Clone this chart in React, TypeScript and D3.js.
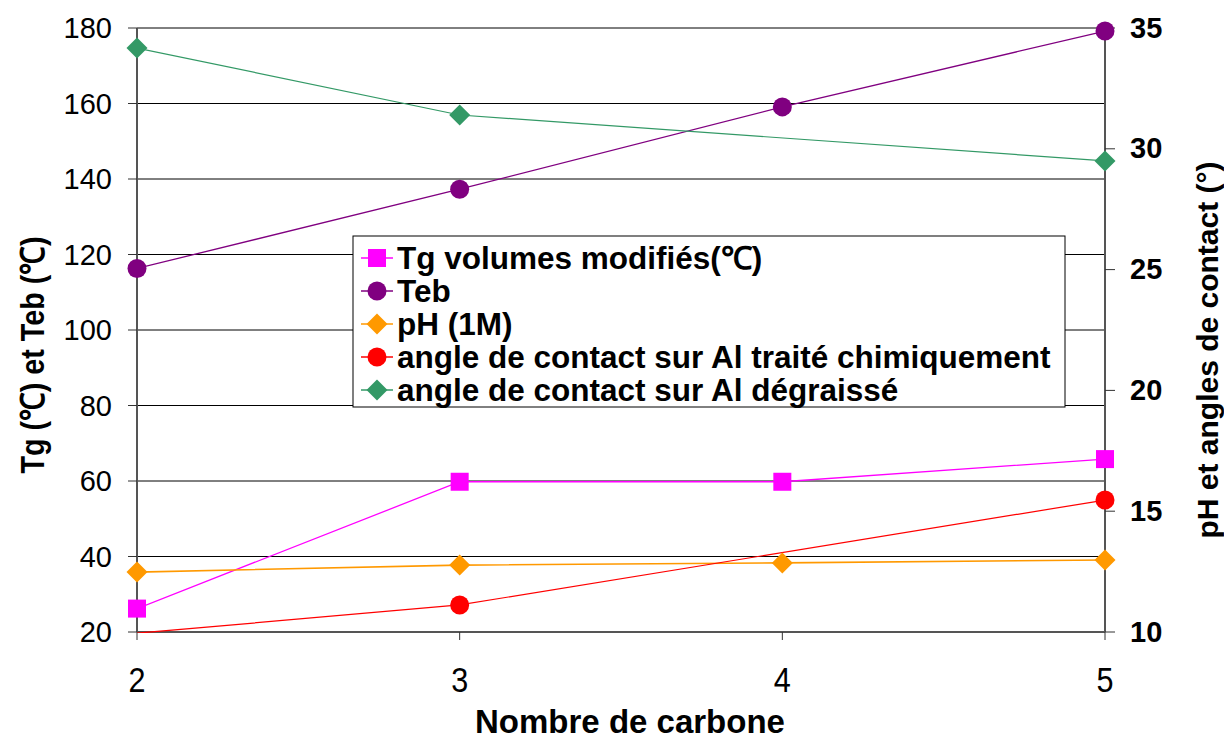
import React from "react";
import * as d3 from "d3";

const categories = [2, 3, 4, 5];
const leftTicks = [20, 40, 60, 80, 100, 120, 140, 160, 180];
const rightTicks = [10, 15, 20, 25, 30, 35];
const tgValues: (number | null)[] = [26.2, 59.8, 59.8, 65.8];
const tebValues: (number | null)[] = [116.3, 137.3, 159.1, 179.2];
const phValues: (number | null)[] = [12.48, 12.77, 12.86, 12.98];
const angleTraiteValues: (number | null)[] = [9.95, 11.12, null, 15.46];
const angleDegraisseValues: (number | null)[] = [34.17, 31.4, null, 29.5];

const seriesNames = [
  "Tg volumes modifiés(℃)",
  "Teb",
  "pH (1M)",
  "angle de contact sur Al traité chimiquement",
  "angle de contact sur Al dégraissé",
];

type Series = { name: string; values: (number | null)[]; color: string; shape: string; axis: "left" | "right"; width: number };

const series: Series[] = [
  { name: seriesNames[0], values: tgValues, color: "#FF00FF", shape: "square", axis: "left", width: 1.3 },
  { name: seriesNames[1], values: tebValues, color: "#800080", shape: "circle", axis: "left", width: 1.3 },
  { name: seriesNames[2], values: phValues, color: "#FF9900", shape: "diamond", axis: "right", width: 1.6 },
  { name: seriesNames[3], values: angleTraiteValues, color: "#FF0000", shape: "circle", axis: "right", width: 1.2 },
  { name: seriesNames[4], values: angleDegraisseValues, color: "#339966", shape: "diamond", axis: "right", width: 1.2 },
];

const W = 1224, H = 739;
const L = 137, R = 1105, T = 28, B = 632;
const FONT = "'Liberation Sans', Arial, sans-serif";

function Marker({ shape, x, y, color }: { shape: string; x: number; y: number; color: string }) {
  if (shape === "square") return <rect x={x - 9} y={y - 9} width={18} height={18} fill={color} />;
  if (shape === "circle") return <circle cx={x} cy={y} r={9.5} fill={color} />;
  const s = 10.5;
  return <path d={`M${x},${y - s}L${x + s},${y}L${x},${y + s}L${x - s},${y}Z`} fill={color} />;
}

export default function App() {
  const x = d3.scalePoint<number>().domain(categories).range([L, R]);
  const yL = d3.scaleLinear().domain([20, 180]).range([B, T]);
  const yR = d3.scaleLinear().domain([10, 35]).range([B, T]);

  const legX = 353, legY = 236, legW = 712, legH = 171;
  const rowH = 33;

  return (
    <svg width={W} height={H} style={{ position: "absolute", left: 0, top: 0, background: "#fff" }} fontFamily={FONT}>
      <defs>
        <clipPath id="plot">
          <rect x={L} y={T - 12} width={R - L + 12} height={B - T + 13} />
        </clipPath>
      </defs>
      {/* gridlines */}
      {leftTicks.map((t) => (
        <line key={"g" + t} x1={L} x2={R} y1={yL(t)} y2={yL(t)} stroke="#000" strokeWidth={1} />
      ))}
      {/* axes */}
      <line x1={L} x2={L} y1={T} y2={B} stroke="#555" strokeWidth={2} />
      <line x1={R} x2={R} y1={T} y2={B} stroke="#555" strokeWidth={2} />
      <line x1={L} x2={R} y1={B} y2={B} stroke="#555" strokeWidth={2} />
      {leftTicks.map((t) => (
        <g key={"lt" + t}>
          <line x1={L - 9} x2={L} y1={yL(t)} y2={yL(t)} stroke="#333" strokeWidth={1} />
          <text x={112} y={yL(t)} dy="0.35em" textAnchor="end" fontSize={29}>{t}</text>
        </g>
      ))}
      {rightTicks.map((t) => (
        <g key={"rt" + t}>
          <line x1={R} x2={R + 10} y1={yR(t)} y2={yR(t)} stroke="#333" strokeWidth={1} />
          <text x={1130} y={yR(t)} dy="0.33em" textAnchor="start" fontSize={29} fontWeight="bold">{t}</text>
        </g>
      ))}
      {categories.map((c) => (
        <g key={"xt" + c}>
          <line x1={x(c)!} x2={x(c)!} y1={B} y2={B + 8} stroke="#333" strokeWidth={1} />
          <text x={x(c)!} y={679} dy="0.35em" textAnchor="middle" fontSize={36} transform={`translate(${x(c)!},0) scale(0.85,1) translate(${-x(c)!},0)`}>{c}</text>
        </g>
      ))}
      {/* series */}
      <g clipPath="url(#plot)">
        {series.map((s) => {
          const ys = s.axis === "left" ? yL : yR;
          const pts = categories
            .map((c, i) => ({ c, v: s.values[i] }))
            .filter((p) => p.v !== null) as { c: number; v: number }[];
          const line = d3.line<{ c: number; v: number }>().x((p) => x(p.c)!).y((p) => ys(p.v));
          return <path key={s.name} d={line(pts) || ""} fill="none" stroke={s.color} strokeWidth={s.width} />;
        })}
      </g>
      {series.map((s) => {
        const ys = s.axis === "left" ? yL : yR;
        const [lo, hi] = ys.domain();
        return (
          <g key={"m" + s.name}>
            {categories.map((c, i) => {
              const v = s.values[i];
              if (v === null || v < lo || v > hi) return null;
              return <Marker key={c} shape={s.shape} x={x(c)!} y={ys(v)} color={s.color} />;
            })}
          </g>
        );
      })}
      {/* legend */}
      <rect x={legX} y={legY} width={legW} height={legH} fill="#fff" stroke="#000" strokeWidth={1} />
      {series.map((s, i) => {
        const cy = legY + 22 + i * rowH;
        return (
          <g key={"l" + s.name}>
            <line x1={361} x2={393} y1={cy} y2={cy} stroke={s.color} strokeWidth={1.5} />
            <Marker shape={s.shape} x={377} y={cy} color={s.color} />
            <text x={397} y={cy} dy="0.36em" fontSize={31.5} fontWeight="bold">{s.name}</text>
          </g>
        );
      })}
      {/* axis titles */}
      <text transform="translate(44,355) rotate(-90) scale(0.87,1)" textAnchor="middle" fontSize={33} fontWeight="bold">Tg (℃) et Teb (℃)</text>
      <text transform="translate(1218,350) rotate(-90)" textAnchor="middle" fontSize={30} fontWeight="bold">pH et angles de contact (°)</text>
      <text x={630} y={733} textAnchor="middle" fontSize={33} fontWeight="bold">Nombre de carbone</text>
    </svg>
  );
}
